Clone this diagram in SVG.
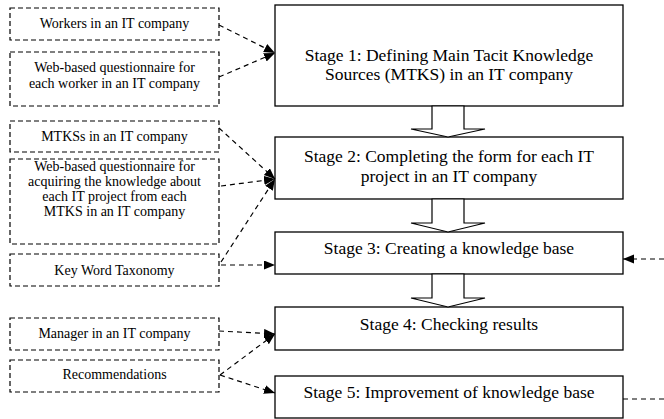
<svg xmlns="http://www.w3.org/2000/svg" width="664" height="419" viewBox="0 0 664 419">
<style>
.src{fill:#fff;stroke:#000;stroke-width:1.2;stroke-dasharray:5,3}
.stage{fill:#fff;stroke:#000;stroke-width:1.3}
.blk{fill:#fff;stroke:#000;stroke-width:1.2}
.con{fill:none;stroke:#000;stroke-width:1.2;stroke-dasharray:5,4}
.arr{marker-end:url(#ah)}
</style>
<defs>
<marker id="ah" markerUnits="userSpaceOnUse" markerWidth="12" markerHeight="10" refX="11" refY="4.5" orient="auto">
<path d="M0,0 L11,4.5 L0,9 Z" fill="#000"/>
</marker>
</defs>
<rect width="664" height="419" fill="#fff"/>
<g id="src-workers"><rect class="src" x="10" y="8" width="209" height="32"/><text x="114.5" y="28" font-family="Liberation Serif" font-size="14" text-anchor="middle" style="font-family:'Liberation Serif',serif">Workers in an IT company</text></g>
<g id="src-questionnaire1"><rect class="src" x="10" y="52" width="209" height="54"/><text x="114.5" y="72" font-family="Liberation Serif" font-size="14" text-anchor="middle" style="font-family:'Liberation Serif',serif">Web-based questionnaire for</text><text x="114.5" y="88" font-family="Liberation Serif" font-size="14" text-anchor="middle" style="font-family:'Liberation Serif',serif">each worker in an IT company</text></g>
<g id="src-mtkss"><rect class="src" x="10" y="121" width="209" height="31"/><text x="114.5" y="141" font-family="Liberation Serif" font-size="14" text-anchor="middle" style="font-family:'Liberation Serif',serif">MTKSs in an IT company</text></g>
<g id="src-questionnaire2"><rect class="src" x="10" y="159" width="209" height="85"/><text x="114.5" y="171" font-family="Liberation Serif" font-size="14" text-anchor="middle" style="font-family:'Liberation Serif',serif">Web-based questionnaire for</text><text x="114.5" y="186" font-family="Liberation Serif" font-size="14" text-anchor="middle" style="font-family:'Liberation Serif',serif">acquiring the knowledge about</text><text x="114.5" y="201" font-family="Liberation Serif" font-size="14" text-anchor="middle" style="font-family:'Liberation Serif',serif">each IT project from each</text><text x="114.5" y="216" font-family="Liberation Serif" font-size="14" text-anchor="middle" style="font-family:'Liberation Serif',serif">MTKS in an IT company</text></g>
<g id="src-taxonomy"><rect class="src" x="10" y="254" width="209" height="32"/><text x="114.5" y="275" font-family="Liberation Serif" font-size="14" text-anchor="middle" style="font-family:'Liberation Serif',serif">Key Word Taxonomy</text></g>
<g id="src-manager"><rect class="src" x="10" y="318" width="209" height="32"/><text x="114.5" y="338" font-family="Liberation Serif" font-size="14" text-anchor="middle" style="font-family:'Liberation Serif',serif">Manager in an IT company</text></g>
<g id="src-recommendations"><rect class="src" x="10" y="360" width="209" height="32"/><text x="114.5" y="379" font-family="Liberation Serif" font-size="14" text-anchor="middle" style="font-family:'Liberation Serif',serif">Recommendations</text></g>
<g id="stage1"><rect class="stage" x="275" y="5" width="348" height="101"/><text x="449" y="61" font-family="Liberation Serif" font-size="17.5" text-anchor="middle" style="font-family:'Liberation Serif',serif">Stage 1: Defining Main Tacit Knowledge</text><text x="449" y="80" font-family="Liberation Serif" font-size="17.5" text-anchor="middle" style="font-family:'Liberation Serif',serif">Sources (MTKS) in an IT company</text></g>
<g id="stage2"><rect class="stage" x="275" y="137" width="348" height="62"/><text x="449" y="162" font-family="Liberation Serif" font-size="17.5" text-anchor="middle" style="font-family:'Liberation Serif',serif">Stage 2: Completing the form for each IT</text><text x="449" y="182" font-family="Liberation Serif" font-size="17.5" text-anchor="middle" style="font-family:'Liberation Serif',serif">project in an IT company</text></g>
<g id="stage3"><rect class="stage" x="275" y="232" width="348" height="42"/><text x="449" y="254" font-family="Liberation Serif" font-size="17.5" text-anchor="middle" style="font-family:'Liberation Serif',serif">Stage 3: Creating a knowledge base</text></g>
<g id="stage4"><rect class="stage" x="275" y="307" width="348" height="43"/><text x="449" y="330" font-family="Liberation Serif" font-size="17.5" text-anchor="middle" style="font-family:'Liberation Serif',serif">Stage 4: Checking results</text></g>
<g id="stage5"><rect class="stage" x="275" y="376" width="348" height="42"/><text x="449" y="398" font-family="Liberation Serif" font-size="17.5" text-anchor="middle" style="font-family:'Liberation Serif',serif">Stage 5: Improvement of knowledge base</text></g>
<g id="connectors">
<polygon class="blk" points="432,106 432,129 411,129 448,137 485,129 464,129 464,106"/>
<polygon class="blk" points="432,199 432,223 411,223 448,232 485,223 464,223 464,199"/>
<polygon class="blk" points="432,274 432,298 411,298 448,307 485,298 464,298 464,274"/>
<line class="con arr" x1="219" y1="25" x2="275" y2="53"/>
<line class="con arr" x1="219" y1="77" x2="275" y2="53"/>
<line class="con arr" x1="219" y1="128" x2="275" y2="179"/>
<line class="con arr" x1="221" y1="186" x2="275" y2="179"/>
<line class="con arr" x1="221" y1="262" x2="275" y2="179"/>
<line class="con arr" x1="221" y1="265" x2="275" y2="265"/>
<line class="con arr" x1="219" y1="331" x2="275" y2="334"/>
<line class="con arr" x1="220" y1="375" x2="275" y2="334"/>
<line class="con arr" x1="220" y1="375" x2="275" y2="393"/>
<line class="con arr" x1="664" y1="259" x2="623" y2="259"/>
<line class="con" x1="623" y1="399" x2="664" y2="399"/>
</g>
</svg>
